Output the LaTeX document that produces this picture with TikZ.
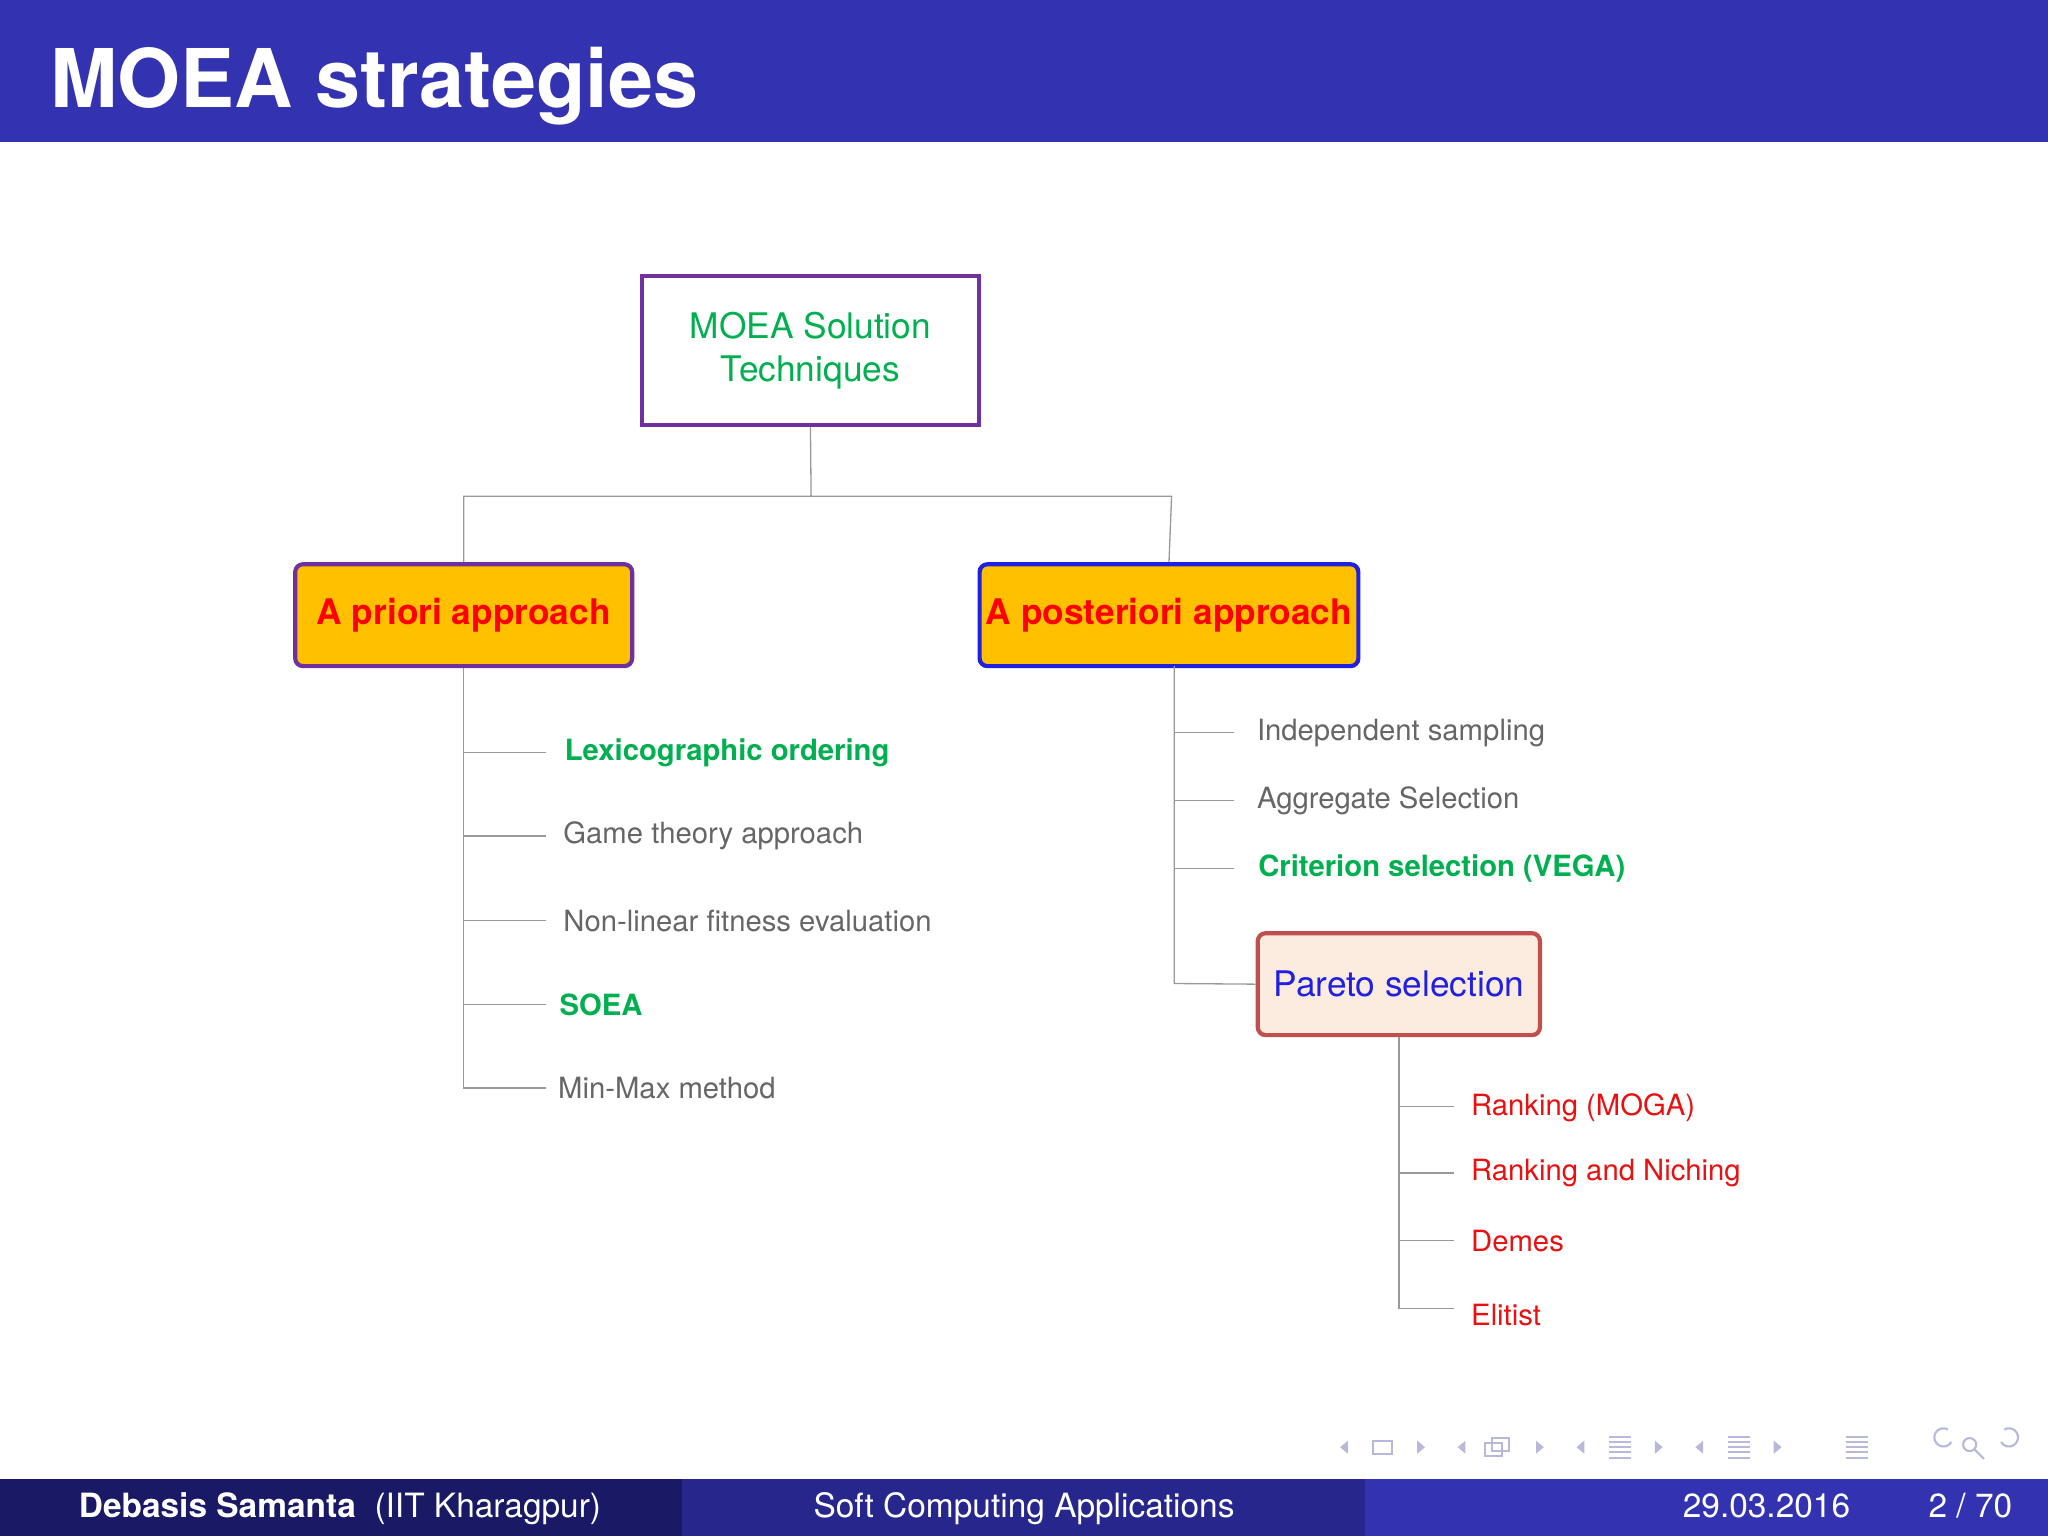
\documentclass[tikz,border=0pt]{standalone}
\usepackage{fontspec}
\setmainfont{TeX Gyre Heros}
\definecolor{bar}{HTML}{3333B2}
\definecolor{barmid}{HTML}{26268C}
\definecolor{bardark}{HTML}{191966}
\definecolor{grn}{HTML}{00B050}
\definecolor{purp}{HTML}{7030A0}
\definecolor{gold}{HTML}{FFC000}
\definecolor{blu}{HTML}{2020E0}
\definecolor{txtg}{HTML}{666666}
\definecolor{redd}{HTML}{E81010}
\definecolor{pbord}{HTML}{C0504D}
\definecolor{pfill}{HTML}{FCEBDF}
\definecolor{nav}{HTML}{B8B8DC}
\begin{document}
\begin{tikzpicture}[x=0.5pt,y=-0.5pt,
  conn/.style={draw=gray!80,line width=0.5pt},
  item/.style={anchor=west,inner sep=0pt,font=\fontsize{11.2}{13}\selectfont,text=txtg},
  gitem/.style={item,text=grn,font=\fontsize{11.2}{13}\selectfont\bfseries},
  ritem/.style={item,text=redd},
  apbox/.style={draw=purp,line width=1.6pt,fill=gold,rounded corners=3pt,minimum width=129pt,minimum height=39pt,text=red,font=\fontsize{13.5}{16}\selectfont\bfseries,inner sep=0pt}]
\useasboundingbox (0,0) rectangle (1568,1176);
\fill[white] (0,0) rectangle (1568,1176);
\fill[bar] (0,0) rectangle (1568,109);
\node[anchor=base west,text=white,font=\fontsize{31}{34}\selectfont\bfseries,inner sep=0pt] (title) at (38,82) {MOEA strategies};
% footer
\fill[bardark] (0,1132) rectangle (522,1176);
\fill[barmid] (522,1132) rectangle (1045,1176);
\fill[bar] (1045,1132) rectangle (1568,1176);
\node[anchor=base west,text=white,font=\fontsize{12.8}{14}\selectfont,inner sep=0pt] (f1) at (60,1162) {\textbf{Debasis Samanta}\ \ (IIT Kharagpur)};
\node[anchor=base,text=white,font=\fontsize{12.8}{14}\selectfont,inner sep=0pt] (f2) at (784,1162) {Soft Computing Applications};
\node[anchor=base west,text=white,font=\fontsize{12.8}{14}\selectfont,inner sep=0pt] (f3) at (1288,1162) {29.03.2016};
\node[anchor=base east,text=white,font=\fontsize{12.8}{14}\selectfont,inner sep=0pt] (f4) at (1541,1162) {2 / 70};
% nav symbols
\begin{scope}[nav,line width=0.8pt]
\fill (1032,1103)--(1026,1108)--(1032,1113)--cycle;
\draw (1051,1103) rectangle (1066,1113);
\fill (1085,1103)--(1091,1108)--(1085,1113)--cycle;
\fill (1122,1103)--(1116,1108)--(1122,1113)--cycle;
\draw (1137,1105) rectangle (1150,1115); \draw (1142,1101) rectangle (1155,1111);
\fill (1176,1103)--(1182,1108)--(1176,1113)--cycle;
\fill (1213,1103)--(1207,1108)--(1213,1113)--cycle;
\foreach \y in {1100,1104,1108,1112,1116} \draw (1232,\y)--(1249,\y);
\fill (1267,1103)--(1273,1108)--(1267,1113)--cycle;
\fill (1304,1103)--(1298,1108)--(1304,1113)--cycle;
\foreach \y in {1100,1104,1108,1112,1116} \draw (1323,\y)--(1340,\y);
\fill (1358,1103)--(1364,1108)--(1358,1113)--cycle;
\foreach \y in {1100,1104,1108,1112,1116} \draw (1413,\y)--(1430,\y);
\draw (1494,1104) arc (30:300:7); \draw (1508,1106) circle (5); \draw (1512,1110)--(1519,1117);
\draw (1532,1104) arc (150:-120:7);
\end{scope}
% root
\node[draw=purp,line width=1.6pt,minimum width=129pt,minimum height=57pt,text=grn,align=center,font=\fontsize{13.5}{16.5}\selectfont] (root) at (620.5,268.5) {MOEA Solution\\Techniques};
\node[apbox] (apr) at (355,471) {A priori approach};
\node[apbox,draw=blu,minimum width=145pt] (apo) at (895,471) {A posteriori approach};
\coordinate (j) at (621,380);
\draw[conn] (root.south) -- (j) -| (apr.north);
\draw[conn] (j) -- (897,380) -- (apo.north);
% left items
\node[gitem] (l1) at (432,576) {Lexicographic ordering};
\node[item] (l2) at (431,640) {Game theory approach};
\node[item] (l3) at (431,705) {Non-linear fitness evaluation};
\node[gitem] (l4) at (428,769) {SOEA};
\node[item] (l5) at (427,833) {Min-Max method};
\draw[conn] (apr.south) -- (355,833) -- (418,833);
\foreach \y in {576,640,705,769} \draw[conn] (355,\y) -- (418,\y);
% right items
\node[item] (r1) at (962,561) {Independent sampling};
\node[item] (r2) at (962,613) {Aggregate Selection};
\node[gitem] (r3) at (963,665) {Criterion selection (VEGA)};
\node[draw=pbord,line width=1.6pt,fill=pfill,rounded corners=3pt,minimum width=108pt,minimum height=39pt,text=blu,font=\fontsize{13.5}{16}\selectfont,inner sep=0pt] (par) at (1071,753.5) {Pareto selection};
\draw[conn] (899,510) -- (899,753) -- (par.west);
\foreach \y in {561,613,665} \draw[conn] (899,\y) -- (945,\y);
% pareto items
\node[ritem] (p1) at (1126,848) {Ranking (MOGA)};
\node[ritem] (p2) at (1126,898) {Ranking and Niching};
\node[ritem] (p3) at (1126,950) {Demes};
\node[ritem] (p4) at (1126,1007) {Elitist};
\draw[conn] (par.south) -- (1071,1002) -- (1113,1002);
\foreach \y in {847,898,950} \draw[conn] (1071,\y) -- (1113,\y);
\end{tikzpicture}
\end{document}
